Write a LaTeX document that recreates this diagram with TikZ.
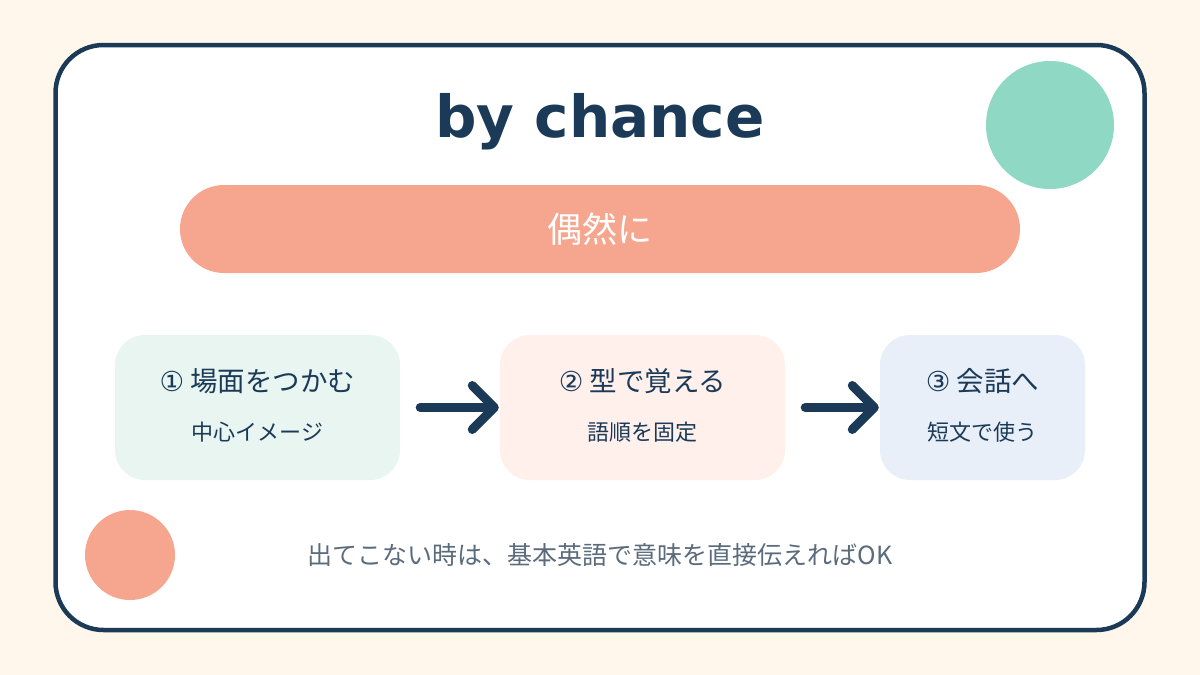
\documentclass[tikz,border=0pt]{standalone}
\usepackage{fontspec}
\setmainfont{DejaVu Sans}
\newfontfamily\jpfont{Noto Sans CJK JP}
\newfontfamily\numfont{DejaVu Sans}
\usetikzlibrary{arrows.meta, positioning}
\definecolor{cream}{HTML}{FFF6EC}
\definecolor{navy}{HTML}{1B3A57}
\definecolor{salmon}{HTML}{F6A68E}
\definecolor{mintdot}{HTML}{8FD8C4}
\definecolor{mintbox}{HTML}{E8F5F1}
\definecolor{pinkbox}{HTML}{FFF0EC}
\definecolor{bluebox}{HTML}{E8EFF9}
\definecolor{slate}{HTML}{5A6B7B}

\begin{document}
\begin{tikzpicture}[
  x=1pt, y=-1pt,
  stepbox/.style={rounded corners=30pt, minimum height=145pt, inner sep=0pt},
  steptitle/.style={font=\jpfont\fontsize{27.5}{27.5}\selectfont, text=navy, inner sep=0pt},
  stepsub/.style={font=\jpfont\fontsize{22}{22}\selectfont, text=navy, inner sep=0pt},
  flow/.style={navy, line width=9pt, line cap=round,
               -{Straight Barb[round, length=22pt, width=44pt]},
               shorten <=20pt, shorten >=1pt}
]
  % Background and card
  \useasboundingbox[fill=cream] (0,0) rectangle (1200,675);
  \draw[navy, line width=4.5pt, fill=white, rounded corners=48pt] (55.5,45) rectangle (1144.5,630);

  % Decorative dots
  \fill[mintdot] (1050,125) circle (64pt);
  \fill[salmon] (130,555) circle (45pt);

  % Title and meaning
  \node[font=\fontsize{58}{58}\selectfont\bfseries, text=navy, anchor=base] (word) at (600,137) {by chance};
  \node[fill=salmon, rounded corners=44pt, minimum width=840pt, minimum height=88pt,
        font=\jpfont\fontsize{35}{35}\selectfont, text=white] (meaning) at (600,229) {偶然に};

  % Steps
  \node[stepbox, fill=mintbox, minimum width=285pt] (scene) at (257.5,407.5) {};
  \node[stepbox, fill=pinkbox, minimum width=285pt] (pattern) at (642.5,407.5) {};
  \node[stepbox, fill=bluebox, minimum width=205pt] (talk) at (982.5,407.5) {};

  \node[steptitle] (scenetitle) at ([yshift=26pt]scene.center) {{\numfont ①} 場面をつかむ};
  \node[stepsub] (scenesub) at ([yshift=-25pt]scene.center) {中心イメージ};
  \node[steptitle] (patterntitle) at ([yshift=26pt]pattern.center) {{\numfont ②} 型で覚える};
  \node[stepsub] (patternsub) at ([yshift=-25pt]pattern.center) {語順を固定};
  \node[steptitle] (talktitle) at ([yshift=26pt]talk.center) {{\numfont ③} 会話へ};
  \node[stepsub] (talksub) at ([yshift=-25pt]talk.center) {短文で使う};

  % Arrows
  \draw[flow] (scene) -- (pattern);
  \draw[flow] (pattern) -- (talk);

  % Footer tip
  \node[font=\jpfont\fontsize{25}{25}\selectfont, text=slate] (tip) at (600,555) {出てこない時は、基本英語で意味を直接伝えればOK};
\end{tikzpicture}
\end{document}
